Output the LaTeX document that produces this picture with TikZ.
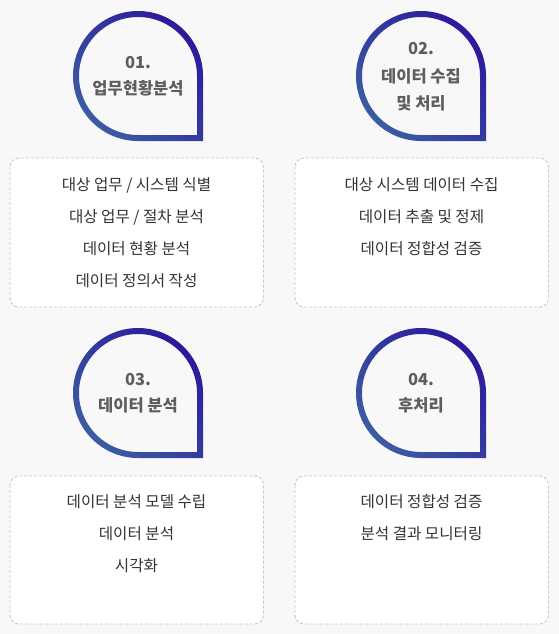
\documentclass[tikz,border=0pt]{standalone}
\usepackage{fontspec}
\setmainfont{Noto Sans CJK KR}
\definecolor{bgc}{HTML}{F8F8F8}
\definecolor{dropdark}{HTML}{2B1A9B}
\definecolor{droplight}{HTML}{3C5CA2}
\definecolor{boxline}{HTML}{C9C9C9}
\definecolor{itemtxt}{HTML}{333333}
\definecolor{droptxt}{HTML}{5E5E5E}
\tikzset{
  item/.style={text=itemtxt, font=\fontsize{15.6}{18}\selectfont, anchor=center, text height=0.8em, text depth=0.1em, inner sep=0pt, yshift=-2.5pt},
  droplabel/.style={text=droptxt, font=\fontsize{16.5}{19}\selectfont\bfseries, anchor=center, text height=0.8em, text depth=0.1em, inner sep=0pt, yshift=-3pt},
  panel/.style={draw=boxline, fill=white, line width=0.9pt, dash pattern=on 3pt off 2pt, rounded corners=9pt},
  dropring/.style={even odd rule, top color=dropdark, bottom color=droplight, shading angle=-45}
}
% drop ring: #1 cx, #2 cy (y down), centre-line radius 62, stroke 6
\newcommand{\dropshape}[2]{%
  \shade[dropring]
    (#1+65,#2+65) -- (#1+65,#2) arc[start angle=0, end angle=-270, radius=65] -- cycle
    (#1+59,#2+59) -- (#1+59,#2) arc[start angle=0, end angle=-270, radius=59] -- cycle;
}
\begin{document}
\begin{tikzpicture}[x=1pt,y=-1pt]
\fill[bgc] (0,0) rectangle (559,634);
\useasboundingbox (0,0) rectangle (559,634);

% drops
\dropshape{138}{76}
\dropshape{421}{76}
\dropshape{138}{393}
\dropshape{421}{393}

\node[droplabel] (d1a) at (138,62) {01.};
\node[droplabel] (d1b) at (138,88) {업무현황분석};

\node[droplabel] (d2a) at (421,48) {02.};
\node[droplabel] (d2b) at (421,76) {데이터 수집};
\node[droplabel] (d2c) at (421,103) {및 처리};

\node[droplabel] (d3a) at (138,379) {03.};
\node[droplabel] (d3b) at (138,405) {데이터 분석};

\node[droplabel] (d4a) at (421,379) {04.};
\node[droplabel] (d4b) at (421,405) {후처리};

% panels
\draw[panel] (10,158) rectangle (263.5,307);
\draw[panel] (295,158) rectangle (548.5,307);
\draw[panel] (10,476) rectangle (263.5,624);
\draw[panel] (295,476) rectangle (548.5,624);

\node[item] (b1a) at (136.5,184) {대상 업무 / 시스템 식별};
\node[item] (b1b) at (136.5,216) {대상 업무 / 절차 분석};
\node[item] (b1c) at (136.5,248) {데이터 현황 분석};
\node[item] (b1d) at (136.5,280) {데이터 정의서 작성};

\node[item] (b2a) at (421.5,184) {대상 시스템 데이터 수집};
\node[item] (b2b) at (421.5,216) {데이터 추출 및 정제};
\node[item] (b2c) at (421.5,248) {데이터 정합성 검증};

\node[item] (b3a) at (136.5,501) {데이터 분석 모델 수립};
\node[item] (b3b) at (136.5,533) {데이터 분석};
\node[item] (b3c) at (136.5,565) {시각화};

\node[item] (b4a) at (421.5,501) {데이터 정합성 검증};
\node[item] (b4b) at (421.5,533) {분석 결과 모니터링};
\end{tikzpicture}
\end{document}
